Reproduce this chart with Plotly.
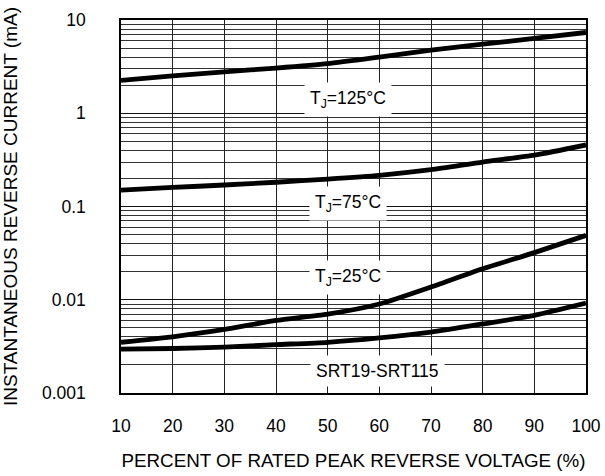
import math
import plotly.graph_objects as go

x_pct = [10, 20, 30, 40, 50, 60, 70, 80, 90, 100]
i_125 = [2.25, 2.52, 2.78, 3.05, 3.4, 4.0, 4.75, 5.5, 6.35, 7.35]
i_75 = [0.150, 0.160, 0.170, 0.182, 0.197, 0.216, 0.248, 0.30, 0.355, 0.457]
i_25 = [0.0035, 0.0040, 0.0048, 0.0060, 0.0070, 0.0090, 0.0137, 0.0215, 0.0320, 0.049]
i_srt = [0.00295, 0.0030, 0.0031, 0.0033, 0.0035, 0.0039, 0.0045, 0.0055, 0.0068, 0.0092]

x_ticks = [10, 20, 30, 40, 50, 60, 70, 80, 90, 100]
y_ticks = [0.001, 0.01, 0.1, 1, 10]
y_tick_text = ["0.001", "0.01", "0.1", "1", "10"]
y_minor = [m * 10 ** e for e in (-3, -2, -1, 0) for m in range(2, 10)]

labels = [
    ("T<sub>J</sub>=125°C", 54, 1.42),
    ("T<sub>J</sub>=75°C", 54, 0.108),
    ("T<sub>J</sub>=25°C", 54, 0.0175),
    ("SRT19-SRT115", 59.7, 0.00172),
]

FONT = "Liberation Sans, Arial, Helvetica, sans-serif"

fig = go.Figure()
for ys in (i_125, i_75, i_25, i_srt):
    fig.add_trace(go.Scatter(x=x_pct, y=ys, mode="lines",
                             line=dict(color="black", width=4.8, shape="spline", smoothing=0.6),
                             showlegend=False, hoverinfo="skip"))

for txt, xv, yv in labels:
    fig.add_annotation(x=xv, y=math.log10(yv), yref="y", xref="x", text=txt, showarrow=False,
                       font=dict(family=FONT, size=17.5, color="black"), bgcolor="white", borderpad=5)

fig.update_layout(
    width=605, height=476,
    margin=dict(l=121, r=19, t=20, b=83),
    plot_bgcolor="white", paper_bgcolor="white",
    font=dict(family=FONT, color="black"),
)
fig.update_xaxes(
    range=[10, 100], tickmode="array", tickvals=x_ticks, automargin=False,
    tickfont=dict(size=17.5), showgrid=True, gridcolor="#222", gridwidth=1,
    showline=True, linecolor="black", linewidth=1.5, mirror=True, ticks="", zeroline=False,
    title=dict(text="PERCENT OF RATED PEAK REVERSE VOLTAGE (%)", font=dict(size=18.8), standoff=19),
    ticklabelstandoff=16,
)
fig.update_yaxes(
    type="log", range=[-3, 1], tickmode="array", tickvals=y_ticks, ticktext=y_tick_text, automargin=False,
    tickfont=dict(size=17.5), showgrid=True, gridcolor="#111", gridwidth=1.2,
    minor=dict(tickmode="array", tickvals=y_minor, showgrid=True, gridcolor="#333", gridwidth=1, ticks=""),
    showline=True, linecolor="black", linewidth=1.5, mirror=True, ticks="", zeroline=False,
    title=dict(text="INSTANTANEOUS REVERSE CURRENT (mA)", font=dict(size=19), standoff=22),
    ticklabelstandoff=30,
)

# remove the browser's default 8px body margin so the figure sits at the page's top-left corner
fig.write_html("out.html", config={"displayModeBar": False},
               post_script="document.body.style.margin='0';")
